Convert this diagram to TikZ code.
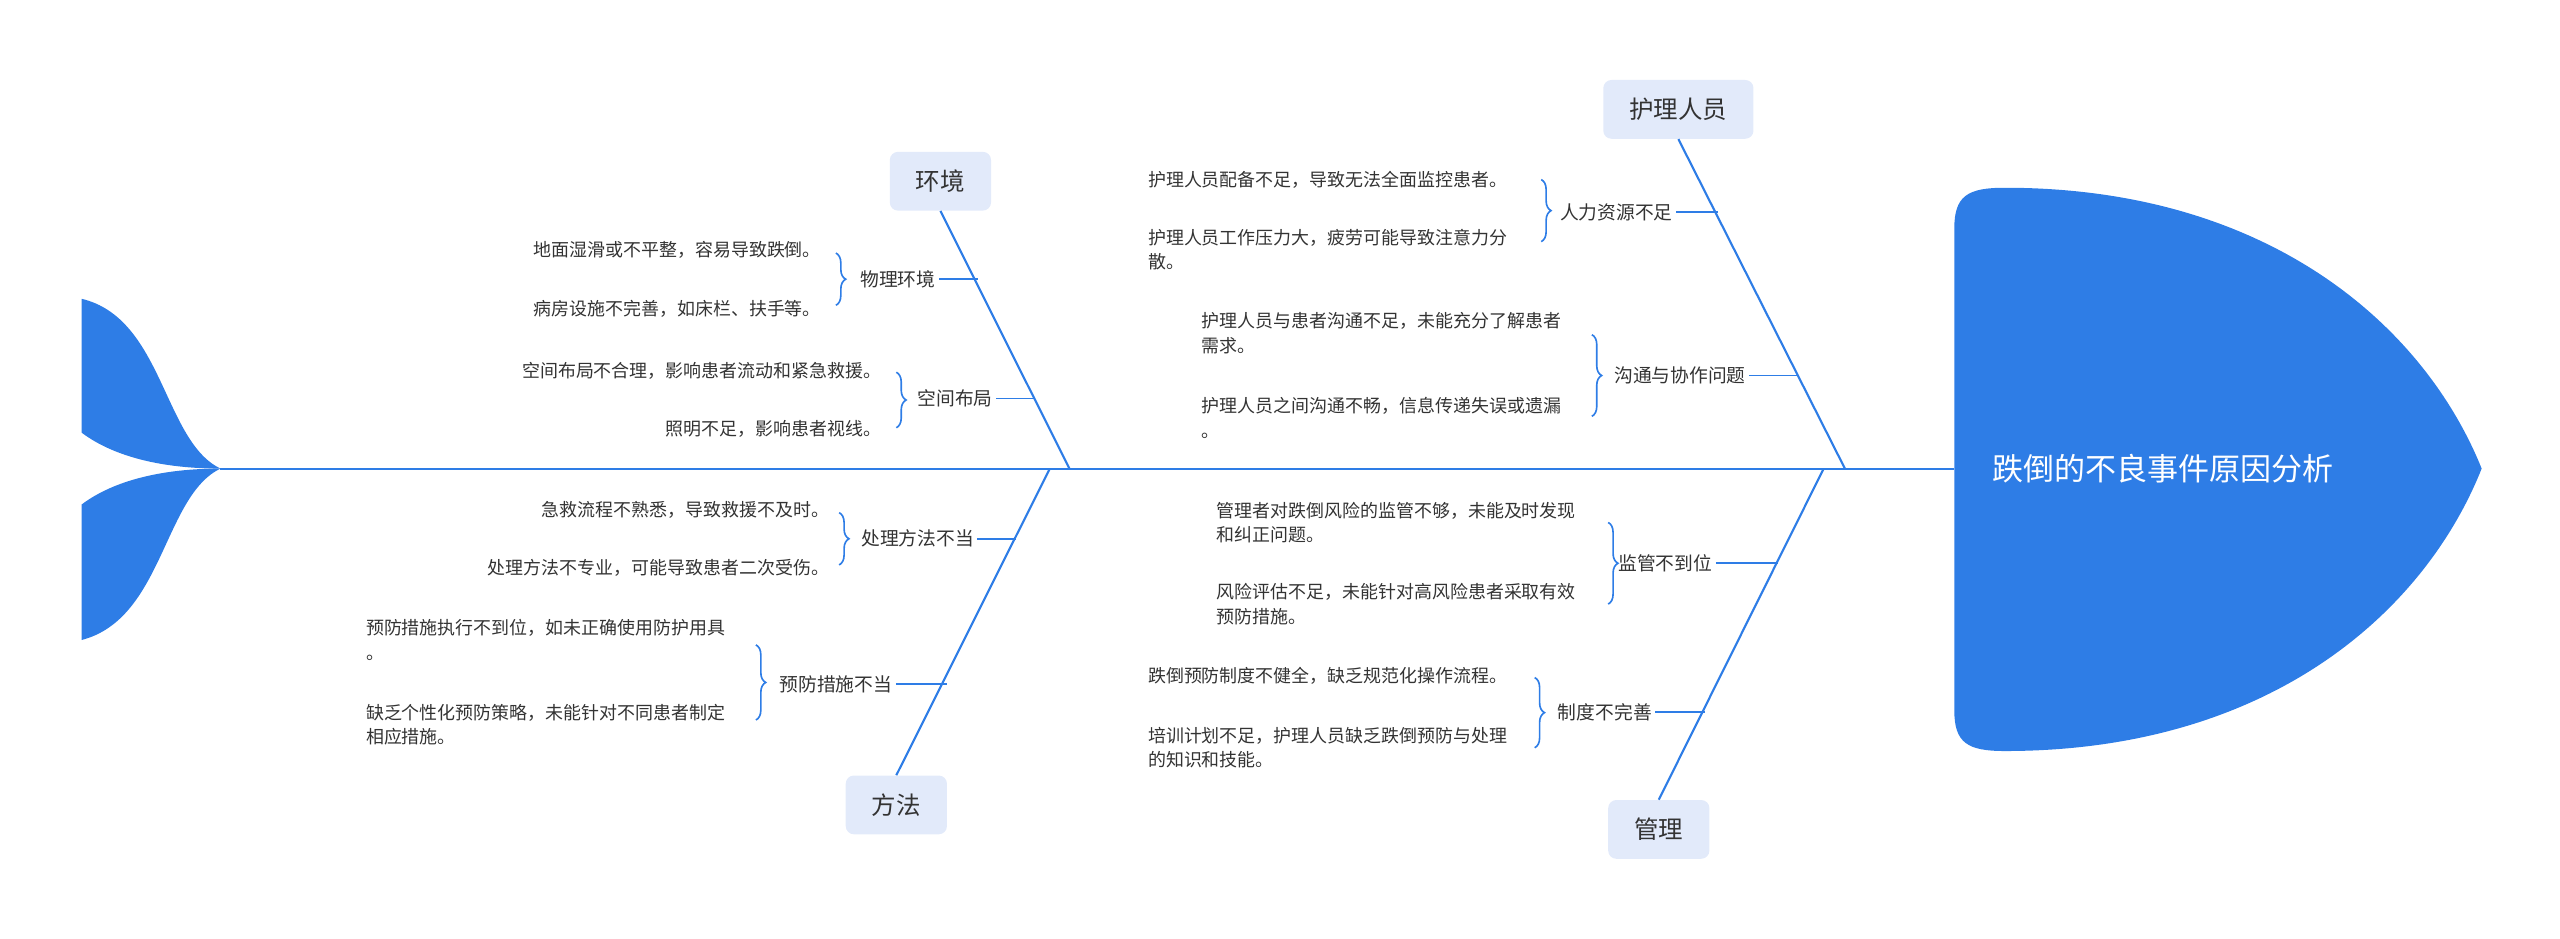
\documentclass[tikz,border=0pt]{standalone}
\usepackage{fontspec}
\setmainfont{Noto Sans CJK SC}
\usetikzlibrary{decorations.pathreplacing}
\definecolor{fb}{HTML}{2E7DE6}
\definecolor{cb}{HTML}{E2EAFA}
\definecolor{tx}{HTML}{333333}
\tikzset{
 bone/.style={draw=fb,line width=1.3pt},
 cat/.style={fill=cb,rounded corners=5pt,minimum width=62pt,minimum height=36pt,font=\fontsize{15}{18}\selectfont,text=tx},
 sub/.style={font=\fontsize{11.5}{14}\selectfont,text=tx,inner sep=2pt},
 leaf/.style={font=\fontsize{11}{15}\selectfont,text=tx,align=left,inner sep=0pt},
 br/.style={draw=fb,line width=1pt,decorate,decoration={brace,amplitude=6pt}}
}
\begin{document}
\begin{tikzpicture}[x=1pt,y=-1pt]
\useasboundingbox (0,0) rectangle (1568,575);
% spine
\coordinate (s0) at (135,287); \coordinate (s1) at (1197,287);
\draw[bone] (s0) -- (s1);
% head
\fill[fb] (1197,287) -- (1197,140) .. controls (1197,120) and (1205,115) .. (1228,115) .. controls (1390,115) and (1485,200) .. (1520,287) .. controls (1485,375) and (1390,460) .. (1228,460) .. controls (1205,460) and (1197,455) .. (1197,435) -- cycle;
\node[text=white,font=\fontsize{19}{22}\selectfont] (head) at (1325,287) {跌倒的不良事件原因分析};
% tail
\fill[fb] (135,287) .. controls (100,270) and (100,195) .. (50,183) -- (50,265) .. controls (70,280) and (100,287) .. (135,287) -- cycle;
\fill[fb] (135,287) .. controls (100,304) and (100,379) .. (50,392) -- (50,309) .. controls (70,294) and (100,287) .. (135,287) -- cycle;
% 环境
\node[cat] (c1) at (576,111) {环境};
\coordinate (b1) at (655,287);
\draw[bone] (c1.south) -- (b1);
\node[sub] (s11) at (550,171) {物理环境};
\coordinate (j11) at (599,171); \draw[bone,line width=1pt] (s11.east) -- (j11);
\draw[br] (512,155) -- (512,187);
\node[leaf,anchor=east] (l111) at (503,153) {地面湿滑或不平整，容易导致跌倒。};
\node[leaf,anchor=east] (l112) at (503,189) {病房设施不完善，如床栏、扶手等。};
\node[sub] (s12) at (585,244) {空间布局};
\coordinate (j12) at (634,244); \draw[bone,line width=1pt] (s12.east) -- (j12);
\draw[br] (549,228) -- (549,262);
\node[leaf,anchor=east] (l121) at (540,227) {空间布局不合理，影响患者流动和紧急救援。};
\node[leaf,anchor=east] (l122) at (540,263) {照明不足，影响患者视线。};
% 方法
\node[cat] (c2) at (549,493) {方法};
\coordinate (b2) at (643,287);
\draw[bone] (b2) -- (c2.north);
\node[sub] (s21) at (562,330) {处理方法不当};
\coordinate (j21) at (622,330); \draw[bone,line width=1pt] (s21.east) -- (j21);
\draw[br] (514,314) -- (514,346);
\node[leaf,anchor=east] (l211) at (508,312) {急救流程不熟悉，导致救援不及时。};
\node[leaf,anchor=east] (l212) at (508,348) {处理方法不专业，可能导致患者二次受伤。};
\node[sub] (s22) at (512,419) {预防措施不当};
\coordinate (j22) at (580,419); \draw[bone,line width=1pt] (s22.east) -- (j22);
\draw[br] (463,395) -- (463,441);
\node[leaf,anchor=west] (l221) at (224,392) {预防措施执行不到位，如未正确使用防护用具\\。};
\node[leaf,anchor=west] (l222) at (224,444) {缺乏个性化预防策略，未能针对不同患者制定\\相应措施。};
% 护理人员
\node[cat,minimum width=92pt] (c3) at (1028,67) {护理人员};
\coordinate (b3) at (1130,287);
\draw[bone] (c3.south) -- (b3);
\node[sub] (s31) at (990,130) {人力资源不足};
\coordinate (j31) at (1052,130); \draw[bone,line width=1pt] (s31.east) -- (j31);
\draw[br] (944,110) -- (944,148);
\node[leaf,anchor=west] (l311) at (703,110) {护理人员配备不足，导致无法全面监控患者。};
\node[leaf,anchor=west] (l312) at (703,153) {护理人员工作压力大，疲劳可能导致注意力分\\散。};
\node[sub] (s32) at (1029,230) {沟通与协作问题};
\coordinate (j32) at (1102,230); \draw[bone,line width=1pt] (s32.east) -- (j32);
\draw[br] (975,205) -- (975,255);
\node[leaf,anchor=west] (l321) at (736,204) {护理人员与患者沟通不足，未能充分了解患者\\需求。};
\node[leaf,anchor=west] (l322) at (736,256) {护理人员之间沟通不畅，信息传递失误或遗漏\\。};
% 管理
\node[cat] (c4) at (1016,508) {管理};
\coordinate (b4) at (1117,287);
\draw[bone] (b4) -- (c4.north);
\node[sub] (s41) at (1020,345) {监管不到位};
\coordinate (j41) at (1089,345); \draw[bone,line width=1pt] (s41.east) -- (j41);
\draw[br] (985,320) -- (985,370);
\node[leaf,anchor=west] (l411) at (745,320) {管理者对跌倒风险的监管不够，未能及时发现\\和纠正问题。};
\node[leaf,anchor=west] (l412) at (745,370) {风险评估不足，未能针对高风险患者采取有效\\预防措施。};
\node[sub] (s42) at (983,436) {制度不完善};
\coordinate (j42) at (1044,436); \draw[bone,line width=1pt] (s42.east) -- (j42);
\draw[br] (940,415) -- (940,458);
\node[leaf,anchor=west] (l421) at (703,414) {跌倒预防制度不健全，缺乏规范化操作流程。};
\node[leaf,anchor=west] (l422) at (703,458) {培训计划不足，护理人员缺乏跌倒预防与处理\\的知识和技能。};
\end{tikzpicture}
\end{document}
